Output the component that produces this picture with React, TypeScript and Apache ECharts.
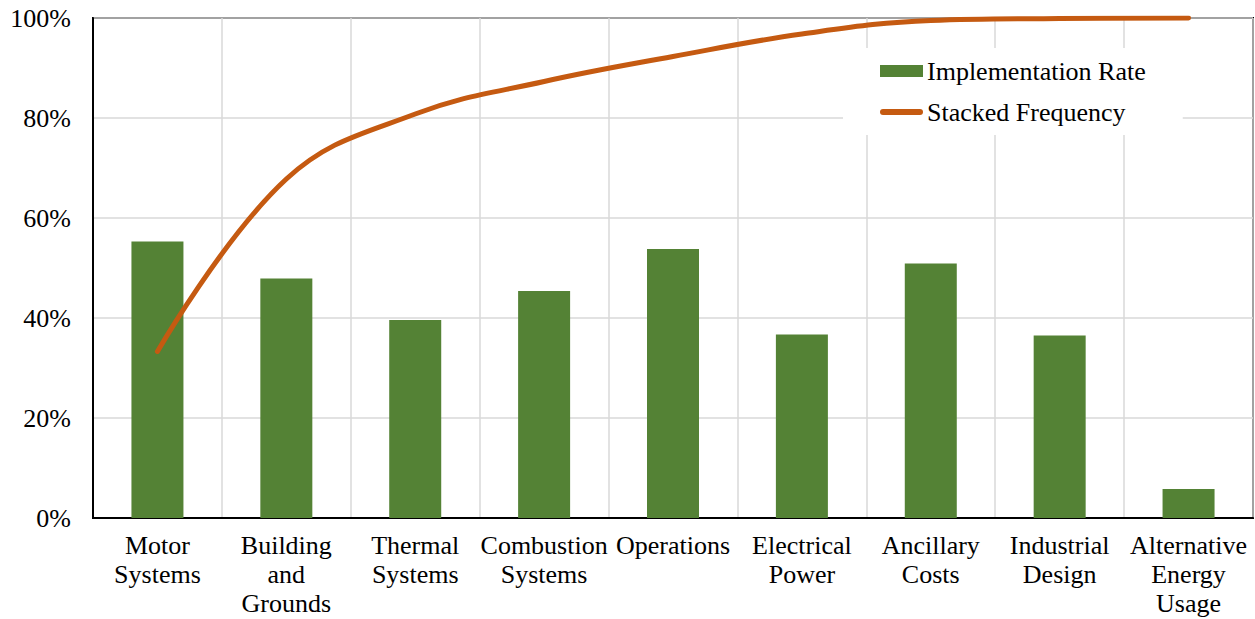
import React, { useEffect, useRef } from "react";
import * as echarts from "echarts";

const categories = [
  "Motor\nSystems",
  "Building\nand\nGrounds",
  "Thermal\nSystems",
  "Combustion\nSystems",
  "Operations",
  "Electrical\nPower",
  "Ancillary\nCosts",
  "Industrial\nDesign",
  "Alternative\nEnergy\nUsage",
];
const implementationRate = [55.3, 47.9, 39.6, 45.4, 53.8, 36.7, 50.9, 36.5, 5.8];
const stackedFrequency = [33.3, 67.8, 80.8, 87.3, 92.3, 96.8, 99.5, 99.9, 100];
const yTicks = [0, 20, 40, 60, 80, 100];

const FONT = "'Liberation Serif', 'Times New Roman', serif";
const LINE_ICON =
  "path://M3,0 L40,0 A3,3 0 0 1 40,6 L3,6 A3,3 0 0 1 3,0 Z";

export default function App() {
  const ref = useRef<HTMLDivElement>(null);
  useEffect(() => {
    if (!ref.current) return;
    const chart = echarts.init(ref.current, null, { renderer: "svg" });
    chart.setOption({
      animation: false,
      backgroundColor: "#fff",
      textStyle: { fontFamily: FONT },
      grid: {
        left: 93,
        right: 2,
        top: 18,
        bottom: 101,
        show: true,
        borderColor: "#000",
        borderWidth: 2,
        backgroundColor: "transparent",
      },
      legend: {
        orient: "vertical",
        left: 843,
        top: 48,
        backgroundColor: "#fff",
        padding: [10, 37, 10, 37],
        itemGap: 15,
        itemWidth: 43,
        itemHeight: 12,
        textStyle: { fontFamily: FONT, fontSize: 26, color: "#000", padding: [0, 0, 0, -1] },
        data: [
          { name: "Implementation Rate", icon: "rect" },
          { name: "Stacked Frequency", icon: LINE_ICON },
        ],
      },
      xAxis: {
        type: "category",
        data: categories,
        boundaryGap: true,
        axisLine: { lineStyle: { color: "#000", width: 2 } },
        axisTick: { show: false },
        splitLine: { show: true, lineStyle: { color: "#d9d9d9", width: 1.5 } },
        axisLabel: {
          interval: 0,
          fontFamily: FONT,
          fontSize: 26,
          color: "#000",
          lineHeight: 29,
          margin: 13,
        },
      },
      yAxis: {
        type: "value",
        min: 0,
        max: 100,
        interval: 20,
        axisLine: { show: true, lineStyle: { color: "#000", width: 2 } },
        axisTick: { show: false },
        splitLine: { lineStyle: { color: "#d9d9d9", width: 1.5 } },
        axisLabel: {
          fontFamily: FONT,
          fontSize: 26,
          color: "#000",
          margin: 22,
          formatter: (v: number) => (yTicks.includes(v) ? v + "%" : ""),
        },
      },
      series: [
        {
          name: "Implementation Rate",
          type: "bar",
          data: implementationRate,
          barWidth: 52,
          itemStyle: { color: "#548235" },
        },
        {
          name: "Stacked Frequency",
          type: "line",
          data: stackedFrequency,
          smooth: 0.4,
          symbol: "none",
          lineStyle: { color: "#c55a11", width: 5, cap: "round" },
          itemStyle: { color: "#c55a11" },
        },
      ],
    });
    return () => chart.dispose();
  }, []);
  return <div ref={ref} style={{ width: 1255, height: 619, position: "absolute", left: 0, top: 0 }} />;
}
